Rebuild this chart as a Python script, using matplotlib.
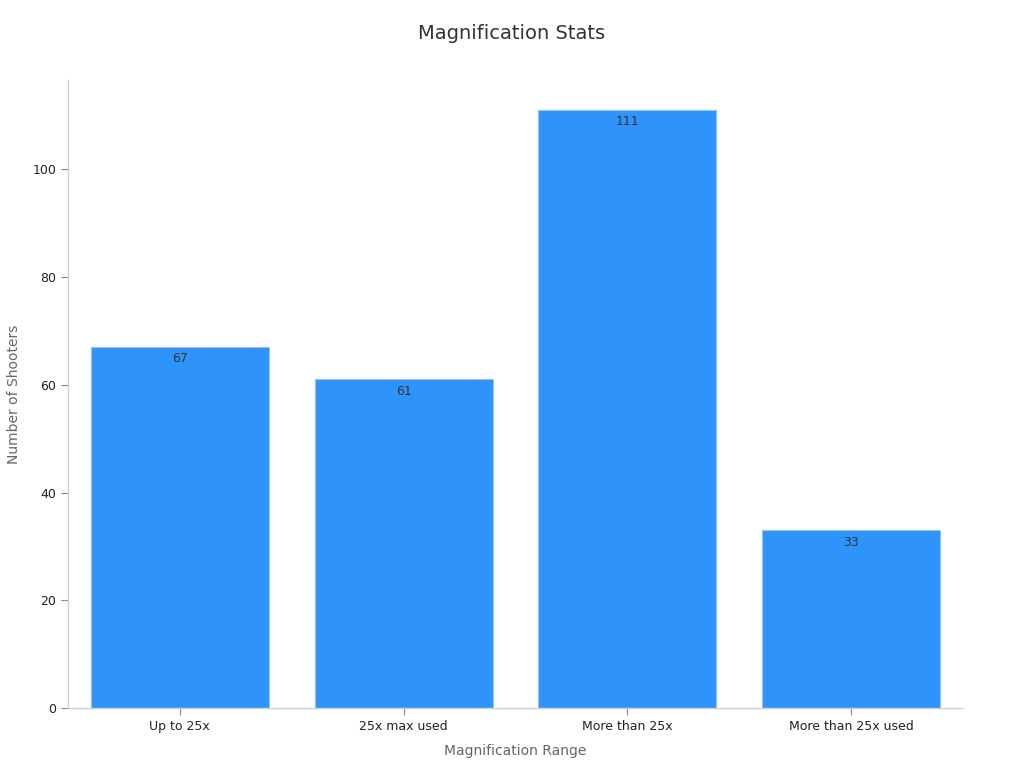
import matplotlib
matplotlib.use('Agg')
import matplotlib.pyplot as plt

# Data
categories = ['Up to 25x', '25x max used', 'More than 25x', 'More than 25x used']
shooters = [67, 61, 111, 33]

fig = plt.figure(figsize=(10.24, 7.68), dpi=100)
ax = fig.add_axes([0.0664, 0.078, 0.874, 0.8178])

x = range(len(categories))
bars = ax.bar(x, shooters, width=0.795, color='#2E93FA', edgecolor='#8CC4FC', linewidth=0.8)

for xi, v in zip(x, shooters):
    ax.text(xi, v - 1.0, str(v), ha='center', va='top', fontsize=9, color='#333333')

ax.set_xlim(-0.5, len(categories) - 0.5)
ax.set_ylim(0, max(shooters) * 1.05)
ax.set_xticks(list(x))
ax.set_xticklabels(categories, fontsize=9, color='#222222')
ax.set_yticks([0, 20, 40, 60, 80, 100])
ax.tick_params(axis='y', labelsize=9, colors='#222222', length=5, color='#888888')
ax.tick_params(axis='x', length=5, color='#888888')

for s in ['top', 'right']:
    ax.spines[s].set_visible(False)
for s in ['left', 'bottom']:
    ax.spines[s].set_color('#d0d0d0')
    ax.spines[s].set_linewidth(1.0)

ax.set_xlabel('Magnification Range', fontsize=10, color='#666666', labelpad=8)
ax.set_ylabel('Number of Shooters', fontsize=10, color='#666666', labelpad=8)
fig.text(0.5, 0.957, 'Magnification Stats', ha='center', va='center', fontsize=14, color='#333333')

fig.savefig('out.png', dpi=100)
